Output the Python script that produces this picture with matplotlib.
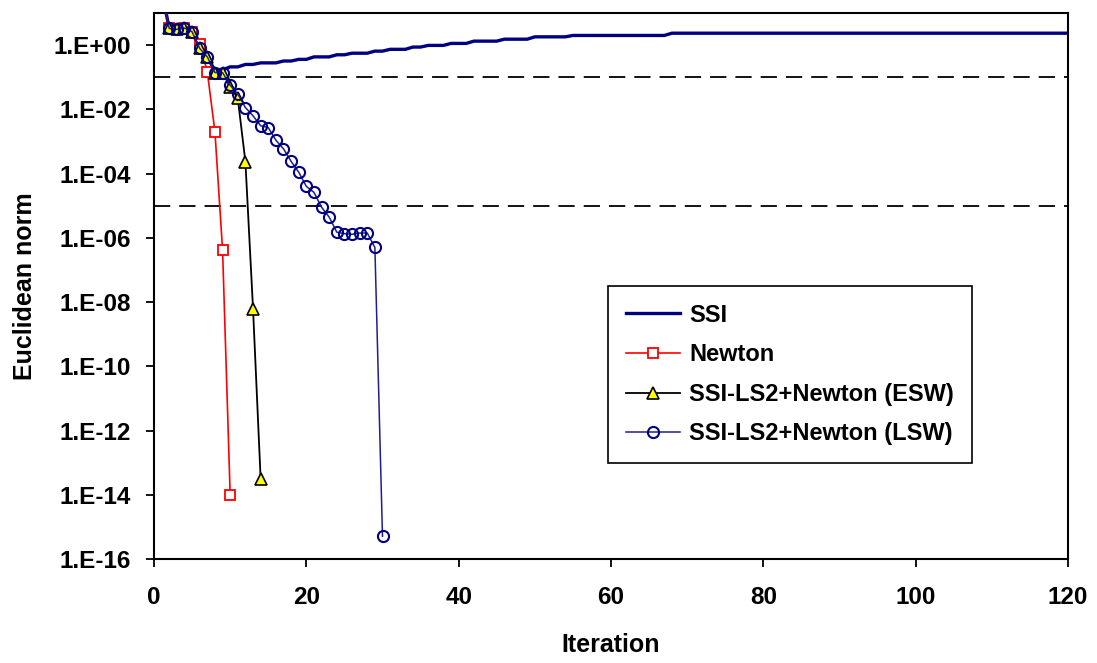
import numpy as np
import matplotlib
matplotlib.use("Agg")
import matplotlib.pyplot as plt
from matplotlib.ticker import FixedLocator, FuncFormatter, NullLocator

# ---------------- data ----------------
ssi_iter = [1, 2, 3, 4, 5, 6, 7, 8, 9, 10, 11, 12, 13, 14, 16, 17, 18, 19, 20,
            21, 23, 24, 25, 26, 28, 29, 30, 31, 33, 34, 35, 36, 38, 39, 41,
            42, 45, 46, 49, 50, 54, 55, 67, 68, 120]
ssi_norm = [50, 3.3, 3.1, 3.4, 2.6, 0.79, 0.43, 0.16, 0.17, 0.21, 0.21, 0.25, 0.25,
            0.28, 0.28, 0.32, 0.32, 0.36, 0.36, 0.43, 0.43, 0.50, 0.50, 0.56, 0.56,
            0.65, 0.65, 0.74, 0.74, 0.87, 0.87, 0.98, 0.98, 1.13, 1.13, 1.33, 1.33,
            1.53, 1.53, 1.81, 1.81, 2.0, 2.0, 2.35, 2.35]

newton_iter = [1, 2, 3, 4, 5, 6, 7, 8, 9, 10]
newton_norm = [50, 3.3, 3.1, 3.4, 2.6, 1.1, 0.148, 2.0e-3, 4.3e-7, 1.0e-14]

esw_iter = [1, 2, 3, 4, 5, 6, 7, 8, 9, 10, 11, 12, 13, 14]
esw_norm = [50, 3.3, 3.1, 3.4, 2.6, 0.79, 0.43, 0.14, 0.14, 0.05, 0.022,
            2.35e-4, 6.3e-9, 3.2e-14]

lsw_iter = list(range(1, 31))
lsw_norm = [50, 3.3, 3.1, 3.4, 2.6, 0.79, 0.43, 0.14, 0.14, 0.056, 0.030, 0.0114,
            6.3e-3, 3.1e-3, 2.7e-3, 1.1e-3, 5.9e-4, 2.4e-4, 1.1e-4, 4.0e-5, 2.6e-5,
            9.0e-6, 4.4e-6, 1.5e-6, 1.35e-6, 1.29e-6, 1.41e-6, 1.41e-6, 5.0e-7, 5.1e-16]

tolerances = [1e-1, 1e-5]
y_ticks = [1e0, 1e-2, 1e-4, 1e-6, 1e-8, 1e-10, 1e-12, 1e-14, 1e-16]
x_ticks = [0, 20, 40, 60, 80, 100, 120]
series_labels = ["SSI", "Newton", "SSI-LS2+Newton (ESW)", "SSI-LS2+Newton (LSW)"]

# ---------------- figure ----------------
plt.rcParams['font.family'] = ['Liberation Sans', 'DejaVu Sans']
plt.rcParams['font.weight'] = 'bold'

W, H = 1097, 663
fig = plt.figure(figsize=(W / 100, H / 100), dpi=100)
ax = fig.add_axes([154 / W, 1 - 559 / H, (1068 - 154) / W, (559 - 13) / H])

ax.set_yscale('log')
ax.set_xlim(0, 120)
ax.set_ylim(1e-16, 1e1)

for t in tolerances:
    ax.axhline(t, color='black', lw=1.3, ls=(0, (9, 5)), zorder=1)

navy = '#000080'
ax.plot(ssi_iter, ssi_norm, color=navy, lw=2.4, label=series_labels[0], zorder=3)
ax.plot(newton_iter, newton_norm, color='#ff0000', lw=1.2, marker='s', ms=7.5,
        mfc='white', mec='#ff0000', mew=1.3, label=series_labels[1], zorder=4)
ax.plot(esw_iter, esw_norm, color='black', lw=1.3, marker='^', ms=9,
        mfc='#ffff00', mec='black', mew=1.2, label=series_labels[2], zorder=5)
ax.plot(lsw_iter, lsw_norm, color='#1f1f90', lw=1.1, marker='o', ms=8,
        mfc='none', mec=navy, mew=1.5, label=series_labels[3], zorder=6)

# ticks
ax.xaxis.set_major_locator(FixedLocator(x_ticks))
ax.yaxis.set_major_locator(FixedLocator(y_ticks))
ax.yaxis.set_minor_locator(NullLocator())
ax.xaxis.set_minor_locator(NullLocator())
ax.yaxis.set_major_formatter(FuncFormatter(
    lambda v, p: "1.E{:+03d}".format(int(round(np.log10(v))))))
ax.tick_params(axis='both', direction='out', length=5.5, width=1.3,
               labelsize=17.5, colors='black')
ax.tick_params(axis='y', pad=11)
ax.tick_params(axis='x', pad=14)
for lab in ax.get_xticklabels() + ax.get_yticklabels():
    lab.set_fontweight('bold')
for sp in ax.spines.values():
    sp.set_linewidth(1.5)
    sp.set_color('black')

fig.text(611 / W, 1 - 645 / H, "Iteration", ha='center', va='center',
         fontsize=18, fontweight='bold')
fig.text(25 / W, 1 - 286 / H, "Euclidean norm", ha='center', va='center',
         rotation=90, fontsize=18, fontweight='bold')

leg = ax.legend(loc='upper left', bbox_to_anchor=(608 / W, 1 - 286 / H),
                bbox_transform=fig.transFigure, numpoints=1, fontsize=17,
                frameon=True, fancybox=False, shadow=False, framealpha=1,
                edgecolor='black', handlelength=2.3, handletextpad=0.4,
                labelspacing=0.70, borderpad=0.75, borderaxespad=0)
leg.get_frame().set_linewidth(1.2)
for txt in leg.get_texts():
    txt.set_fontweight('bold')

fig.savefig("out.png", dpi=100)
